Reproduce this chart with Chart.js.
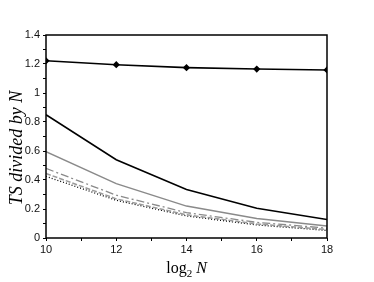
<!DOCTYPE html>
<html>
<head>
<meta charset="utf-8">
<script src="https://cdn.jsdelivr.net/npm/chart.js@4.4.1/dist/chart.umd.min.js"></script>
<style>
  html, body { margin: 0; padding: 0; background: #fff; }
  #wrap { width: 374px; height: 282px; }
</style>
</head>
<body>
<div id="wrap"><canvas id="c"></canvas></div>
<script>
// x = log2 N
var logN = [10, 12, 14, 16, 18];

// TS / N for each curve
var topCurve   = [1.222, 1.195, 1.175, 1.165, 1.159];
var blackSolid = [0.85, 0.54, 0.335, 0.205, 0.128];
var graySolid  = [0.595, 0.375, 0.22, 0.135, 0.083];
var grayDashDot = [0.48, 0.295, 0.175, 0.108, 0.068];
var grayDashed = [0.445, 0.27, 0.16, 0.097, 0.058];
var blackDotted = [0.425, 0.26, 0.152, 0.09, 0.052];

var yTicks = [0, 0.2, 0.4, 0.6, 0.8, 1, 1.2, 1.4];
var xTicks = [10, 12, 14, 16, 18];

function pts(ys) {
  return logN.map(function(x, i) { return { x: x, y: ys[i] }; });
}

// box round the plot + axis titles
var frame = {
  id: 'frame',
  afterDraw: function(chart) {
    var a = chart.chartArea, ctx = chart.ctx;
    ctx.save();
    ctx.strokeStyle = '#000';
    ctx.lineWidth = 1.5;
    ctx.strokeRect(a.left, a.top, a.right - a.left, a.bottom - a.top);

    // x title: log_2 N
    ctx.fillStyle = '#000';
    ctx.textBaseline = 'alphabetic';
    var cx = (a.left + a.right) / 2, y = 273;
    ctx.font = '16px "Liberation Serif"';
    var w1 = ctx.measureText('log').width;
    ctx.font = '11px "Liberation Serif"';
    var w2 = ctx.measureText('2').width;
    ctx.font = 'italic 16px "Liberation Serif"';
    var w3 = ctx.measureText(' N').width;
    var x0 = cx - (w1 + w2 + w3) / 2;
    ctx.font = '16px "Liberation Serif"';
    ctx.fillText('log', x0, y);
    ctx.font = '11px "Liberation Serif"';
    ctx.fillText('2', x0 + w1, y + 4);
    ctx.font = 'italic 16px "Liberation Serif"';
    ctx.fillText(' N', x0 + w1 + w2, y);

    // y title
    ctx.translate(22, 148);
    ctx.rotate(-Math.PI / 2);
    ctx.textAlign = 'center';
    ctx.font = 'italic 18px "Liberation Serif"';
    ctx.fillText('TS divided by N', 0, 0);
    ctx.restore();
  }
};

new Chart(document.getElementById('c'), {
  type: 'line',
  data: {
    datasets: [
      { data: pts(topCurve), borderColor: '#000', borderWidth: 1.6,
        pointStyle: 'rectRot', pointRadius: 2.5, pointBackgroundColor: '#000', pointBorderColor: '#000' },
      { data: pts(blackSolid), borderColor: '#000', borderWidth: 1.6, pointRadius: 0 },
      { data: pts(graySolid), borderColor: '#8a8a8a', borderWidth: 1.5, pointRadius: 0 },
      { data: pts(grayDashDot), borderColor: '#8a8a8a', borderWidth: 1.3, borderDash: [8, 3, 2, 3], pointRadius: 0 },
      { data: pts(grayDashed), borderColor: '#9a9a9a', borderWidth: 1.5, borderDash: [5, 2], pointRadius: 0 },
      { data: pts(blackDotted), borderColor: '#000', borderWidth: 1.3, borderDash: [1, 2], pointRadius: 0 }
    ]
  },
  options: {
    responsive: true,
    maintainAspectRatio: false,
    animation: false,
    layout: { padding: { top: 35, right: 47, bottom: 0, left: 0 } },
    plugins: { legend: { display: false }, tooltip: { enabled: false } },
    scales: {
      x: {
        type: 'linear', min: 10, max: 18,
        afterFit: function(s) { s.height = 44; },
        afterBuildTicks: function(s) {
          var t = [];
          for (var v = 10; v <= 18; v++) t.push({ value: v });
          s.ticks = t;
        },
        grid: { drawOnChartArea: false, tickLength: 3, color: '#000', lineWidth: 1 },
        border: { display: false },
        ticks: {
          color: '#111', padding: 2, maxRotation: 0, autoSkip: false,
          font: { family: '"Liberation Sans"', size: 11 },
          callback: function(v) { return xTicks.indexOf(v) >= 0 ? String(v) : ''; }
        }
      },
      y: {
        min: 0, max: 1.4,
        afterFit: function(s) { s.width = 46; },
        afterBuildTicks: function(s) {
          var t = [];
          for (var i = 0; i <= 14; i++) t.push({ value: i / 10 });
          s.ticks = t;
        },
        grid: { drawOnChartArea: false, tickLength: 3, color: '#000', lineWidth: 1 },
        border: { display: false },
        ticks: {
          color: '#111', padding: 3, autoSkip: false,
          font: { family: '"Liberation Sans"', size: 11 },
          callback: function(v) {
            var r = Math.round(v * 10) / 10;
            for (var k = 0; k < yTicks.length; k++) {
              if (Math.abs(yTicks[k] - r) < 1e-9) return String(r);
            }
            return '';
          }
        }
      }
    }
  },
  plugins: [frame]
});
</script>
</body>
</html>
